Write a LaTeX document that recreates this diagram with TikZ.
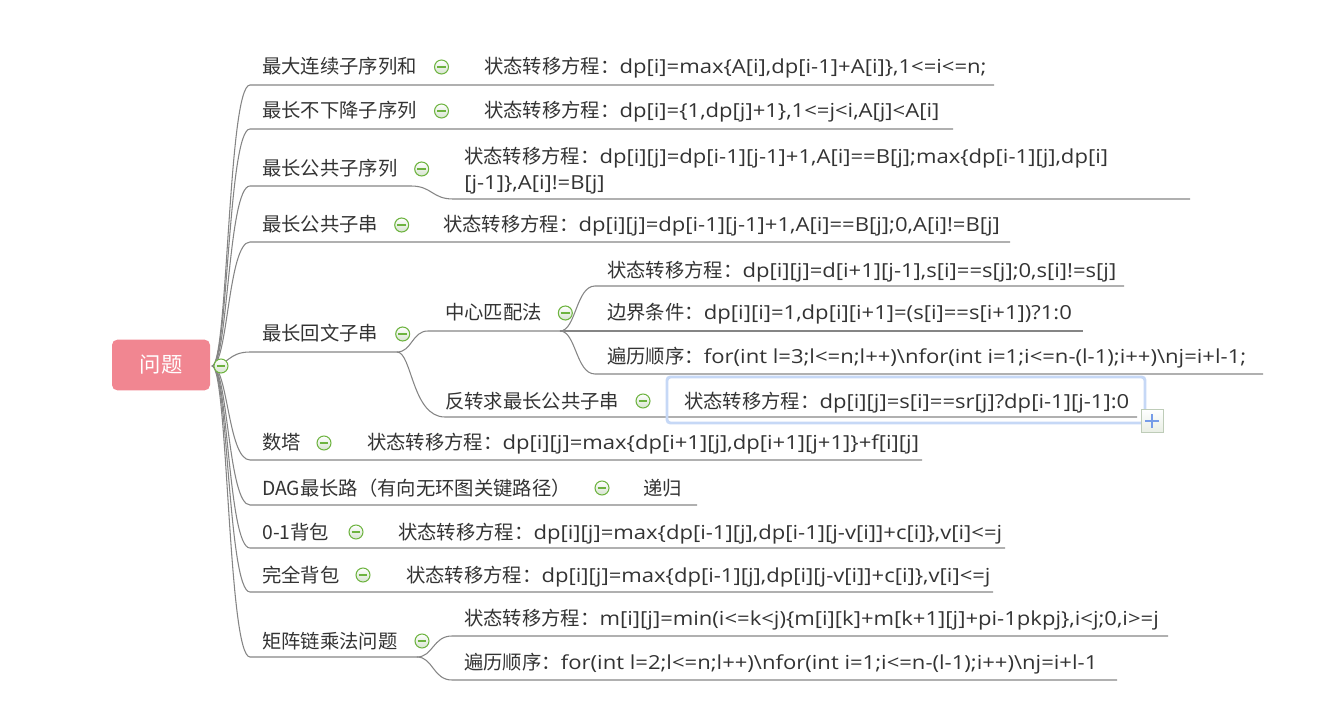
\documentclass[tikz,border=0pt]{standalone}
\usepackage{fontspec}
\usepackage{graphicx}
\newfontfamily\cjk{Noto Sans CJK SC}
\newfontfamily\latf{Open Sans}
\definecolor{txtc}{HTML}{333333}
\definecolor{linec}{HTML}{858585}
\definecolor{btng}{HTML}{6DB33F}
\definecolor{btnf}{HTML}{D6E3CF}
\definecolor{rootc}{RGB}{241,134,145}
\definecolor{selc}{RGB}{198,216,246}
\definecolor{plusc}{RGB}{118,156,232}
\definecolor{plusf}{RGB}{232,238,228}
\definecolor{plusb}{RGB}{190,204,184}
\newcommand\fml[1]{\scalebox{1.14}[1]{\latf #1}}
\newcommand\btn[3]{\node[btn] (#1) at (#2,#3) {};
  \draw[minus] ([xshift=-3.3pt]#1.center) -- ([xshift=3.3pt]#1.center);}
\begin{document}
\begin{tikzpicture}[x=0.75pt,y=-0.75pt,
  txt/.style={anchor=base west, inner sep=0pt, text=txtc, font=\cjk\fontsize{14.5pt}{18pt}\selectfont},
  conn/.style={draw=linec, line width=0.8pt},
  btn/.style={circle, draw=btng, line width=0.8pt, minimum size=10.5pt, inner sep=0pt, top color=white, bottom color=btnf},
  minus/.style={draw=btng, line width=0.9pt},
  rootbox/.style={fill=rootc, rounded corners=4pt, minimum width=73.5pt, minimum height=38pt, inner sep=0pt, text=white, font=\cjk\fontsize{16pt}{18pt}\selectfont},
  selbox/.style={draw=selc, line width=2.2pt, rounded corners=2.5pt, minimum width=358.5pt, minimum height=34.5pt, inner sep=0pt},
  plusbox/.style={draw=plusb, line width=0.6pt, top color=white, bottom color=plusf, minimum width=16.5pt, minimum height=17.5pt, inner sep=0pt},
  plusline/.style={draw=plusc, line width=1.8pt},
]
\useasboundingbox (0,0) rectangle (1317,716);

% root
\node[rootbox] (root) at (161,365) {问题};

% ---------- connectors from root ----------
\coordinate (r) at (212,366);
\draw[conn] (r) .. controls (228,366) and (228,85) .. (250,85) -- (994,85);
\draw[conn] (r) .. controls (228,366) and (228,129) .. (250,129) -- (953,129);
\draw[conn] (r) .. controls (228,366) and (228,186) .. (250,186) -- (411,186)
  .. controls (432,186) and (432,199) .. (453,199) -- (1190,199);
\draw[conn] (r) .. controls (228,366) and (228,242) .. (250,242) -- (1010,242);
\coordinate (p5) at (397,352);
\draw[conn] (r) .. controls (228,366) and (228,352) .. (250,352) -- (p5);
\coordinate (p51) at (560,331);
\draw[conn] (p5) .. controls (412,352) and (412,331) .. (428,331) -- (p51);
\draw[conn] (p51) .. controls (576,331) and (576,286) .. (595,286) -- (1124,286);
\draw[conn] (p51) -- (1083,331);
\draw[conn] (p51) .. controls (576,331) and (576,374) .. (595,374) -- (1263,374);
\draw[conn] (p5) .. controls (412,352) and (412,417) .. (445,417) -- (1137,417);
\draw[conn] (r) .. controls (228,366) and (228,460) .. (250,460) -- (922,460);
\draw[conn] (r) .. controls (228,366) and (228,505) .. (250,505) -- (697,505);
\draw[conn] (r) .. controls (228,366) and (228,548) .. (250,548) -- (1005,548);
\draw[conn] (r) .. controls (228,366) and (228,592) .. (250,592) -- (993,592);
\coordinate (p10) at (417,657);
\draw[conn] (r) .. controls (228,366) and (228,657) .. (250,657) -- (p10);
\draw[conn] (p10) .. controls (433,657) and (433,636) .. (452,636) -- (1168,636);
\draw[conn] (p10) .. controls (433,657) and (433,680) .. (452,680) -- (1117,680);

% ---------- level 1 topics ----------
\node[txt] (t1) at (262,74) {最大连续子序列和};
\node[txt] (t2) at (262,118) {最长不下降子序列};
\node[txt] (t3) at (262,176) {最长公共子序列};
\node[txt] (t4) at (262,232) {最长公共子串};
\node[txt] (t5) at (262,341) {最长回文子串};
\node[txt] (t6) at (262,450) {数塔};
\node[txt] (t7) at (262,495) {DAG最长路（有向无环图关键路径）};
\node[txt] (t8) at (262,539) {0-1背包};
\node[txt] (t9) at (262,582) {完全背包};
\node[txt] (t10) at (262,648) {矩阵链乘法问题};

% ---------- children ----------
\node[txt] (c1) at (484,74) {状态转移方程：\fml{dp[i]=max\{A[i],dp[i-1]+A[i]\},1<=i<=n;}};
\node[txt] (c2) at (484,118) {状态转移方程：\fml{dp[i]=\{1,dp[j]+1\},1<=j<i,A[j]<A[i]}};
\node[txt] (c3a) at (464,164) {状态转移方程：\fml{dp[i][j]=dp[i-1][j-1]+1,A[i]==B[j];max\{dp[i-1][j],dp[i]}};
\node[txt] (c3b) at (464,190) {\fml{[j-1]\},A[i]!=B[j]}};
\node[txt] (c4) at (443,232) {状态转移方程：\fml{dp[i][j]=dp[i-1][j-1]+1,A[i]==B[j];0,A[i]!=B[j]}};

\node[txt] (s51) at (445,320) {中心匹配法};
\node[txt] (s52) at (445,408) {反转求最长公共子串};
\node[txt] (c511) at (607,278) {状态转移方程：\fml{dp[i][j]=d[i+1][j-1],s[i]==s[j];0,s[i]!=s[j]}};
\node[txt] (c512) at (607,320) {边界条件：\fml{dp[i][i]=1,dp[i][i+1]=(s[i]==s[i+1])?1:0}};
\node[txt] (c513) at (607,364) {遍历顺序：\fml{for(int l=3;l<=n;l++)\textbackslash nfor(int i=1;i<=n-(l-1);i++)\textbackslash nj=i+l-1;}};
\node[selbox] (sel) at (906,400) {};
\node[txt] (c521) at (684,408) {状态转移方程：\fml{dp[i][j]=s[i]==sr[j]?dp[i-1][j-1]:0}};
\node[plusbox] (plus) at (1152,421) {};
\draw[plusline] ([xshift=-5.2pt]plus.center) -- ([xshift=5.2pt]plus.center);
\draw[plusline] ([yshift=-5.2pt]plus.center) -- ([yshift=5.2pt]plus.center);

\node[txt] (c6) at (367,450) {状态转移方程：\fml{dp[i][j]=max\{dp[i+1][j],dp[i+1][j+1]\}+f[i][j]}};
\node[txt] (c7) at (643,495) {递归};
\node[txt] (c8) at (398,539) {状态转移方程：\fml{dp[i][j]=max\{dp[i-1][j],dp[i-1][j-v[i]]+c[i]\},v[i]<=j}};
\node[txt] (c9) at (406,582) {状态转移方程：\fml{dp[i][j]=max\{dp[i-1][j],dp[i][j-v[i]]+c[i]\},v[i]<=j}};
\node[txt] (c101) at (464,625) {状态转移方程：\fml{m[i][j]=min(i<=k<j)\{m[i][k]+m[k+1][j]+pi-1pkpj\},i<j;0,i>=j}};
\node[txt] (c102) at (464,669) {遍历顺序：\fml{for(int l=2;l<=n;l++)\textbackslash nfor(int i=1;i<=n-(l-1);i++)\textbackslash nj=i+l-1}};

% ---------- collapse buttons ----------
\btn{b0}{221}{366}
\btn{b1}{441.5}{67}
\btn{b2}{441.5}{111}
\btn{b3}{421.7}{169}
\btn{b4}{401.7}{225}
\btn{b5}{402.7}{334}
\btn{b51}{565.3}{313}
\btn{b52}{643}{401}
\btn{b6}{324}{443}
\btn{b7}{602}{488}
\btn{b8}{356}{532}
\btn{b9}{363}{575}
\btn{b10}{422}{641}
\end{tikzpicture}
\end{document}
